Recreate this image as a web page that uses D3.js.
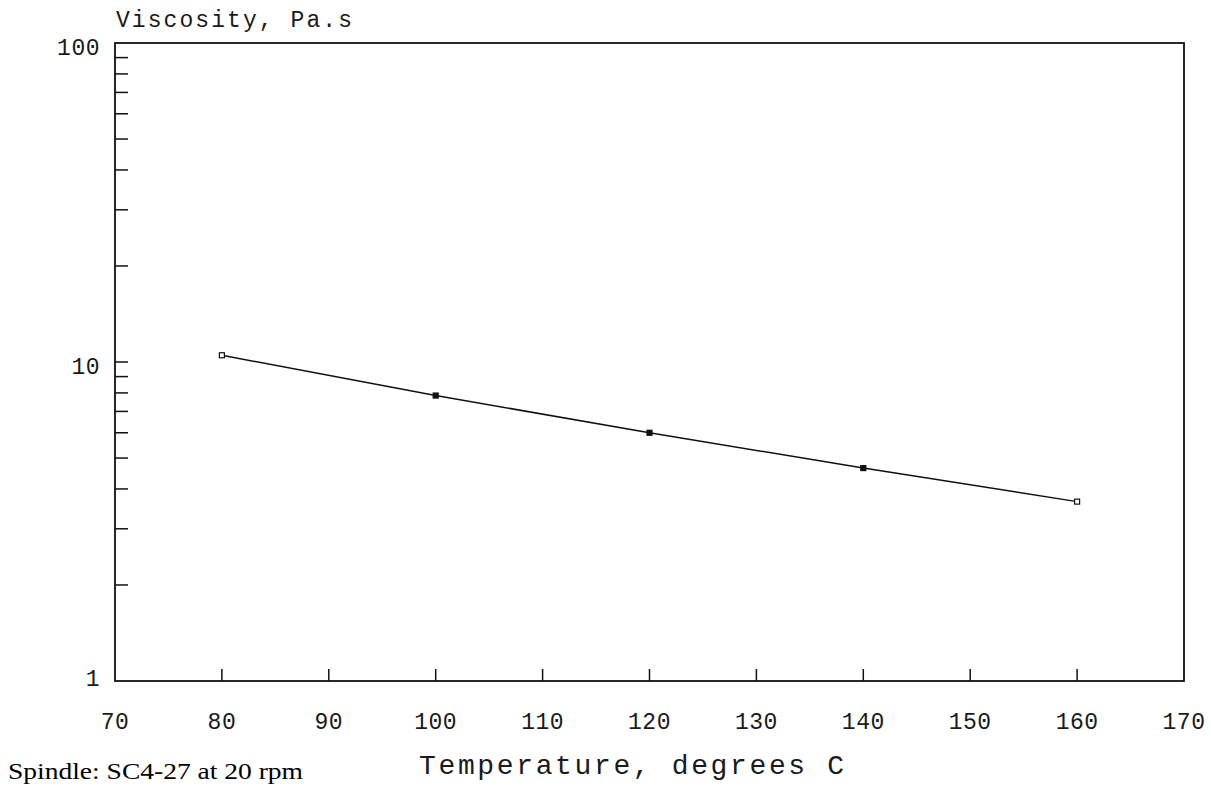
<!DOCTYPE html>
<html lang="en">
<head>
<meta charset="utf-8">
<title>Viscosity vs Temperature</title>
<script src="https://cdn.jsdelivr.net/npm/d3@7"></script>
<style>
  body { margin: 0; background: #fff; }
  .plot text { font-family: "Liberation Mono", "DejaVu Sans Mono", monospace; fill: #1a1a1a; }
</style>
</head>
<body>
<script>
// data
var temps = [80, 100, 120, 140, 160];
var viscosity = [10.5, 7.85, 6.0, 4.65, 3.65];
var xTicks = [70, 80, 90, 100, 110, 120, 130, 140, 150, 160, 170];
var yLabels = [1, 10, 100];
var yMinor = [2, 3, 4, 5, 6, 7, 8, 9, 10, 20, 30, 40, 50, 60, 70, 80, 90];

var w = 1211, h = 791;
// plot box edges (don't call it "top", that's window.top)
var plotL = 115, plotR = 1184, plotT = 43, plotB = 681;

var svg = d3.select("body").append("svg")
  .attr("width", w).attr("height", h)
  .attr("class", "plot");

var x = d3.scaleLinear().domain([70, 170]).range([plotL, plotR]);
var y = d3.scaleLog().domain([1, 100]).range([plotB, plotT]);

// frame
svg.append("rect")
  .attr("x", plotL).attr("y", plotT)
  .attr("width", plotR - plotL).attr("height", plotB - plotT)
  .attr("fill", "none").attr("stroke", "#111").attr("stroke-width", 1.8);

// x ticks (inward), skip the ends
svg.append("g").selectAll("line")
  .data(xTicks.filter(function(d){ return d > 70 && d < 170; }))
  .enter().append("line")
  .attr("x1", function(d){ return x(d); }).attr("x2", function(d){ return x(d); })
  .attr("y1", plotB).attr("y2", plotB - 12)
  .attr("stroke", "#111").attr("stroke-width", 1.5);

svg.append("g").selectAll("text")
  .data(xTicks)
  .enter().append("text")
  .attr("x", function(d){ return x(d); })
  .attr("y", 729)
  .attr("text-anchor", "middle")
  .attr("font-size", "23px")
  .attr("letter-spacing", "0.5px")
  .text(function(d){ return d; });

// y ticks (inward)
svg.append("g").selectAll("line")
  .data(yMinor)
  .enter().append("line")
  .attr("x1", plotL).attr("x2", plotL + 13)
  .attr("y1", function(d){ return y(d); }).attr("y2", function(d){ return y(d); })
  .attr("stroke", "#111").attr("stroke-width", 1.5);

svg.append("g").selectAll("text")
  .data(yLabels)
  .enter().append("text")
  .attr("x", 100)
  .attr("y", function(d){ return y(d) + (d == 1 ? 5 : 12); })
  .attr("text-anchor", "end")
  .attr("font-size", "23px")
  .attr("letter-spacing", "0.5px")
  .text(function(d){ return d; });

// axis titles
svg.append("text")
  .attr("x", 116).attr("y", 27)
  .attr("font-size", "23px")
  .attr("textLength", 236).attr("lengthAdjust", "spacing")
  .text("Viscosity, Pa.s");

svg.append("text")
  .attr("x", 419).attr("y", 774)
  .attr("font-size", "28px")
  .attr("textLength", 425).attr("lengthAdjust", "spacing")
  .text("Temperature, degrees C");

svg.append("text")
  .attr("x", 8).attr("y", 779)
  .attr("font-size", "24px")
  .attr("textLength", 295).attr("lengthAdjust", "spacingAndGlyphs")
  .style("font-family", "'Liberation Serif', 'Times New Roman', serif")
  .style("fill", "#000")
  .text("Spindle: SC4-27 at 20 rpm");

// data line
var pts = temps.map(function(t, i){ return [t, viscosity[i]]; });
svg.append("path")
  .datum(pts)
  .attr("fill", "none").attr("stroke", "#111").attr("stroke-width", 1.5)
  .attr("d", d3.line().x(function(d){ return x(d[0]); }).y(function(d){ return y(d[1]); }));

svg.append("g").selectAll("rect")
  .data(pts)
  .enter().append("rect")
  .attr("x", function(d){ return x(d[0]) - 2.5; })
  .attr("y", function(d){ return y(d[1]) - 2.5; })
  .attr("width", 5).attr("height", 5)
  .attr("fill", function(d, i){ return (i == 0 || i == pts.length - 1) ? "#fff" : "#111"; })
  .attr("stroke", "#111").attr("stroke-width", 1.2);
</script>
</body>
</html>
